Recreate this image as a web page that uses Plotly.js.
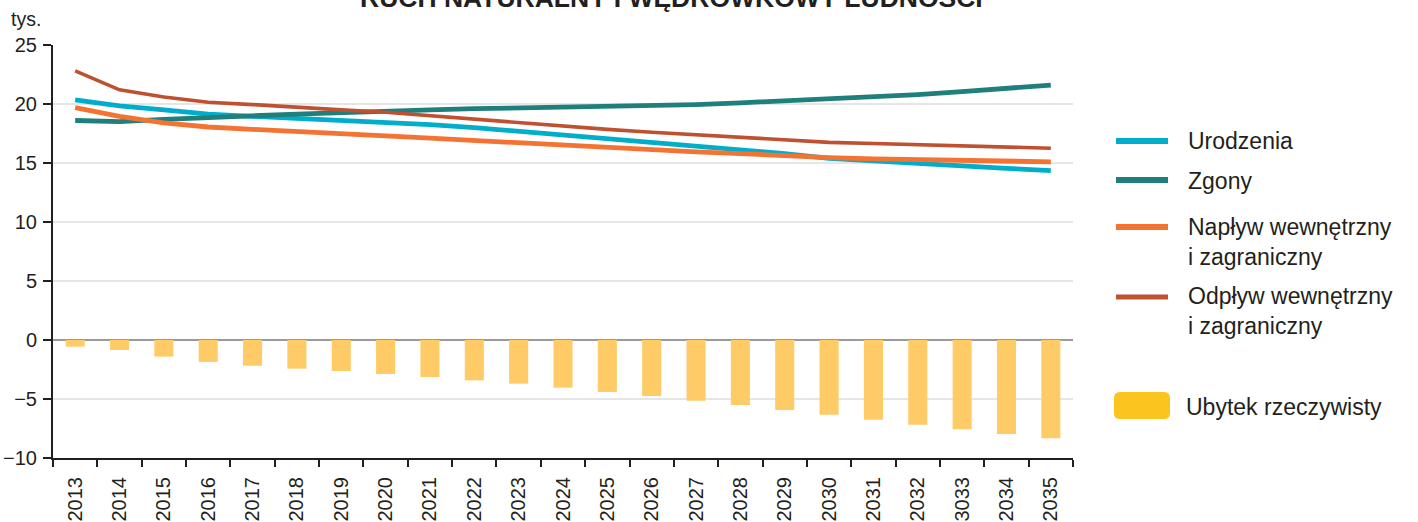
<!DOCTYPE html>
<html>
<head>
<meta charset="utf-8">
<script src="https://cdn.plot.ly/plotly-3.0.1.min.js"></script>
<style>
html,body{margin:0;padding:0;background:#fff;}
#chart{width:1418px;height:522px;}
</style>
</head>
<body>
<div id="chart"></div>
<script>
const years = ["2013","2014","2015","2016","2017","2018","2019","2020","2021","2022","2023","2024","2025","2026","2027","2028","2029","2030","2031","2032","3033","2034","2035"];
const urodzenia = [20.35,19.85,19.5,19.15,18.95,18.8,18.65,18.45,18.25,18.0,17.7,17.35,17.0,16.7,16.4,16.1,15.8,15.4,15.15,14.95,14.75,14.55,14.35];
const zgony = [18.6,18.5,18.7,18.9,19.0,19.15,19.3,19.4,19.5,19.6,19.65,19.7,19.8,19.85,19.95,20.1,20.25,20.4,20.6,20.8,21.05,21.3,21.6];
const naplyw = [19.7,18.95,18.4,18.05,17.85,17.7,17.5,17.3,17.1,16.9,16.7,16.45,16.25,16.1,15.95,15.8,15.6,15.45,15.35,15.3,15.2,15.15,15.1];
const odplyw = [22.8,21.2,20.6,20.15,19.95,19.7,19.5,19.3,19.0,18.7,18.4,18.1,17.85,17.6,17.4,17.15,16.95,16.75,16.65,16.55,16.45,16.35,16.25];
const ubytek = [-0.56,-0.85,-1.41,-1.86,-2.18,-2.43,-2.63,-2.88,-3.14,-3.42,-3.70,-4.04,-4.41,-4.75,-5.14,-5.51,-5.93,-6.33,-6.75,-7.18,-7.57,-7.97,-8.33];

const seriesNames = ["Urodzenia","Zgony","Napływ wewnętrzny<br>i zagraniczny","Odpływ wewnętrzny<br>i zagraniczny","Ubytek rzeczywisty"];
const colors = {uro:"#00AECB", zg:"#1F7F7C", nap:"#F47332", odp:"#BF5030", bar:"#FFCB66", barLeg:"#FBC41E"};

const W = 1418, H = 522;
const M = {l:53, r:345, t:45, b:64};
const pw = W - M.l - M.r, ph = H - M.t - M.b;
const px = x => (x - M.l) / pw;
const py = y => (H - M.b - y) / ph;

const font = "Liberation Sans, Arial, sans-serif";
const txt = "#231F20";

const traces = [
  {type:"bar", x:years, y:ubytek, marker:{color:colors.bar}, width:0.43, name:seriesNames[4], showlegend:false},
  {type:"scatter", mode:"lines", x:years, y:urodzenia, line:{color:colors.uro, width:4.8}, name:seriesNames[0], showlegend:false},
  {type:"scatter", mode:"lines", x:years, y:zgony, line:{color:colors.zg, width:4.8}, name:seriesNames[1], showlegend:false},
  {type:"scatter", mode:"lines", x:years, y:naplyw, line:{color:colors.nap, width:4.8}, name:seriesNames[2], showlegend:false},
  {type:"scatter", mode:"lines", x:years, y:odplyw, line:{color:colors.odp, width:3.6}, name:seriesNames[3], showlegend:false}
];

// custom legend
const legItems = [
  {name:seriesNames[0], color:colors.uro, y:141, ty:141, w:6},
  {name:seriesNames[1], color:colors.zg, y:180, ty:181, w:6},
  {name:seriesNames[2], color:colors.nap, y:227, ty:242, w:6},
  {name:seriesNames[3], color:colors.odp, y:297, ty:311, w:5}
];
const shapes = [];
const annotations = [];
legItems.forEach(it => {
  shapes.push({type:"line", xref:"paper", yref:"paper", x0:px(1116), x1:px(1168), y0:py(it.y), y1:py(it.y), line:{color:it.color, width:it.w}});
  annotations.push({xref:"paper", yref:"paper", x:px(1186), y:py(it.ty), xanchor:"left", yanchor:"middle", align:"left", showarrow:false, text:it.name, font:{family:font, size:23, color:txt}});
});
// bar legend swatch rounded rect
(function(){
  const x0=px(1114), x1=px(1170), y0=py(392), y1=py(419);
  const rx=6/pw, ry=6/ph;
  const path = `M ${x0+rx},${y0} L ${x1-rx},${y0} Q ${x1},${y0} ${x1},${y0-ry} L ${x1},${y1+ry} Q ${x1},${y1} ${x1-rx},${y1} L ${x0+rx},${y1} Q ${x0},${y1} ${x0},${y1+ry} L ${x0},${y0-ry} Q ${x0},${y0} ${x0+rx},${y0} Z`;
  shapes.push({type:"path", xref:"paper", yref:"paper", path:path, fillcolor:colors.barLeg, line:{width:0}});
})();
annotations.push({xref:"paper", yref:"paper", x:px(1184), y:py(407), xanchor:"left", yanchor:"middle", showarrow:false, text:seriesNames[4], font:{family:font, size:23, color:txt}});
// unit label
annotations.push({xref:"paper", yref:"paper", x:px(9), y:py(19), xanchor:"left", yanchor:"middle", showarrow:false, text:"tys.", font:{family:font, size:19.5, color:txt}});
// title (cut off at the top, as in the source)
annotations.push({xref:"paper", yref:"paper", x:px(671), y:py(-2), xanchor:"center", yanchor:"middle", showarrow:false, text:"<b>RUCH NATURALNY I WĘDRÓWKOWY LUDNOŚCI</b>", font:{family:font, size:26.5, color:txt}});

const layout = {
  width:W, height:H,
  margin:M,
  paper_bgcolor:"#fff", plot_bgcolor:"#fff",
  showlegend:false,
  barmode:"overlay",
  font:{family:font, size:20, color:txt},
  xaxis:{
    type:"category", tickson:"boundaries", showgrid:false,
    ticks:"outside", ticklen:7, tickwidth:2, tickcolor:txt,
    showline:true, linecolor:txt, linewidth:2,
    tickangle:-90, tickfont:{family:font, size:20, color:txt},
    ticklabelstandoff:9,
    range:[-0.5, years.length-0.5], zeroline:false, fixedrange:true
  },
  yaxis:{
    range:[-10,25], dtick:5, tick0:0,
    showgrid:true, gridcolor:"#E6E6E6", gridwidth:2,
    zeroline:true, zerolinecolor:"#9A9A9A", zerolinewidth:2,
    ticks:"outside", ticklen:8, tickwidth:2, tickcolor:txt,
    showline:true, linecolor:txt, linewidth:2,
    tickfont:{family:font, size:20, color:txt},
    ticklabelstandoff:2,
    fixedrange:true
  },
  shapes:shapes,
  annotations:annotations
};

Plotly.newPlot("chart", traces, layout, {displayModeBar:false, staticPlot:true});
</script>
</body>
</html>
